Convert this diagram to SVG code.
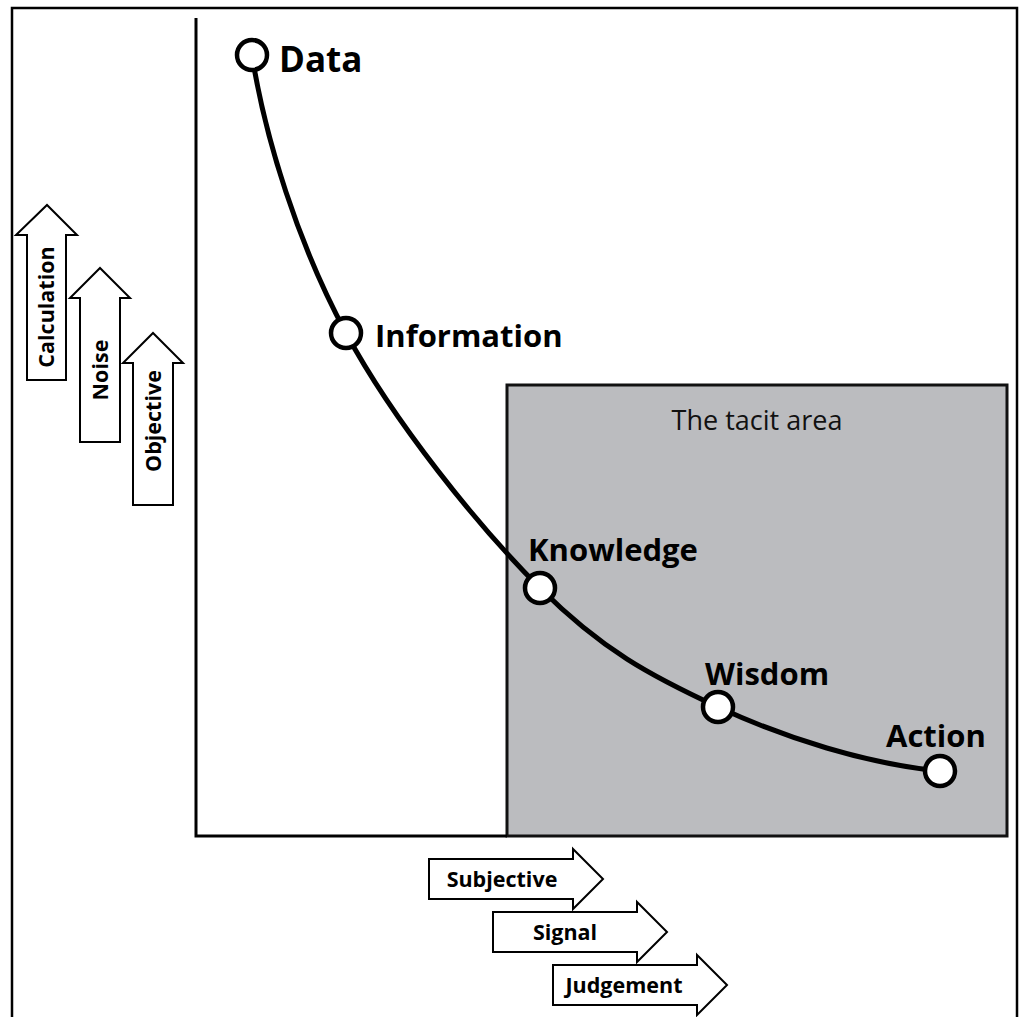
<svg xmlns="http://www.w3.org/2000/svg" width="1020" height="1017" viewBox="0 0 1020 1017">
<style>
.frame{fill:none;stroke:#000;stroke-width:2.5}
.axis{fill:none;stroke:#000;stroke-width:3}
.area{fill:#bbbcbf;stroke:#111;stroke-width:3}
.curve{fill:none;stroke:#000;stroke-width:5}
.pt{fill:#fff;stroke:#000;stroke-width:4.5}
.lbl{font-family:"Open Sans","Liberation Sans",sans-serif;font-weight:bold;font-size:31px;fill:#000}
.area-lbl{font-family:"Open Sans","Liberation Sans",sans-serif;font-size:27px;fill:#111}
.arr{fill:#fff;stroke:#000;stroke-width:2}
.arr-t{font-family:"Open Sans","Liberation Sans",sans-serif;font-weight:bold;font-size:21.5px;fill:#000;text-anchor:middle}
</style>
<rect width="1020" height="1017" fill="#fff"/>
<path class="frame" d="M12,1017 V8 H1017 V1017"/>
<g id="tacit-area">
<rect class="area" x="507" y="385" width="500" height="451"/>
<text class="area-lbl" x="757" y="430" text-anchor="middle">The tacit area</text>
</g>
<g id="axes">
<path class="axis" d="M196,18 V836 H507"/>
</g>
<g id="connectors">
<path class="curve" d="M252,55 C265,138 298,244 346,333 C394,422 478,526 540,588 C602,650 651,676 718,707 C785,738 867,764 940,771"/>
</g>
<g id="node-data">
<circle class="pt" cx="252" cy="55" r="15"/>
<text class="lbl" x="279" y="72" style="font-size:35px">Data</text>
</g>
<g id="node-information">
<circle class="pt" cx="346" cy="333" r="15"/>
<text class="lbl" x="375" y="347">Information</text>
</g>
<g id="node-knowledge">
<circle class="pt" cx="540" cy="588" r="15"/>
<text class="lbl" x="528" y="561">Knowledge</text>
</g>
<g id="node-wisdom">
<circle class="pt" cx="718" cy="707" r="15"/>
<text class="lbl" x="705" y="685">Wisdom</text>
</g>
<g id="node-action">
<circle class="pt" cx="940" cy="771" r="15"/>
<text class="lbl" x="886" y="747">Action</text>
</g>
<g id="arrow-calculation">
<path class="arr" d="M27,380 V235 H16 L47,205 L77,235 H66 V380 Z"/>
<text class="arr-t" transform="translate(54,307) rotate(-90)">Calculation</text>
</g>
<g id="arrow-noise">
<path class="arr" d="M80,442 V298 H70 L100,268 L130,298 H120 V442 Z"/>
<text class="arr-t" transform="translate(108,370) rotate(-90)">Noise</text>
</g>
<g id="arrow-objective">
<path class="arr" d="M133,505 V363 H123 L153,333 L183,363 H173 V505 Z"/>
<text class="arr-t" transform="translate(161,421) rotate(-90)">Objective</text>
</g>
<g id="arrow-subjective">
<path class="arr" d="M429,859 H573 V849 L603,879 L573,909 V899 H429 Z"/>
<text class="arr-t" x="502" y="887">Subjective</text>
</g>
<g id="arrow-signal">
<path class="arr" d="M493,912 H637 V902 L667,932 L637,962 V952 H493 Z"/>
<text class="arr-t" x="565" y="940">Signal</text>
</g>
<g id="arrow-judgement">
<path class="arr" d="M553,965 H697 V955 L727,985 L697,1015 V1005 H553 Z"/>
<text class="arr-t" x="624" y="993">Judgement</text>
</g>
</svg>
